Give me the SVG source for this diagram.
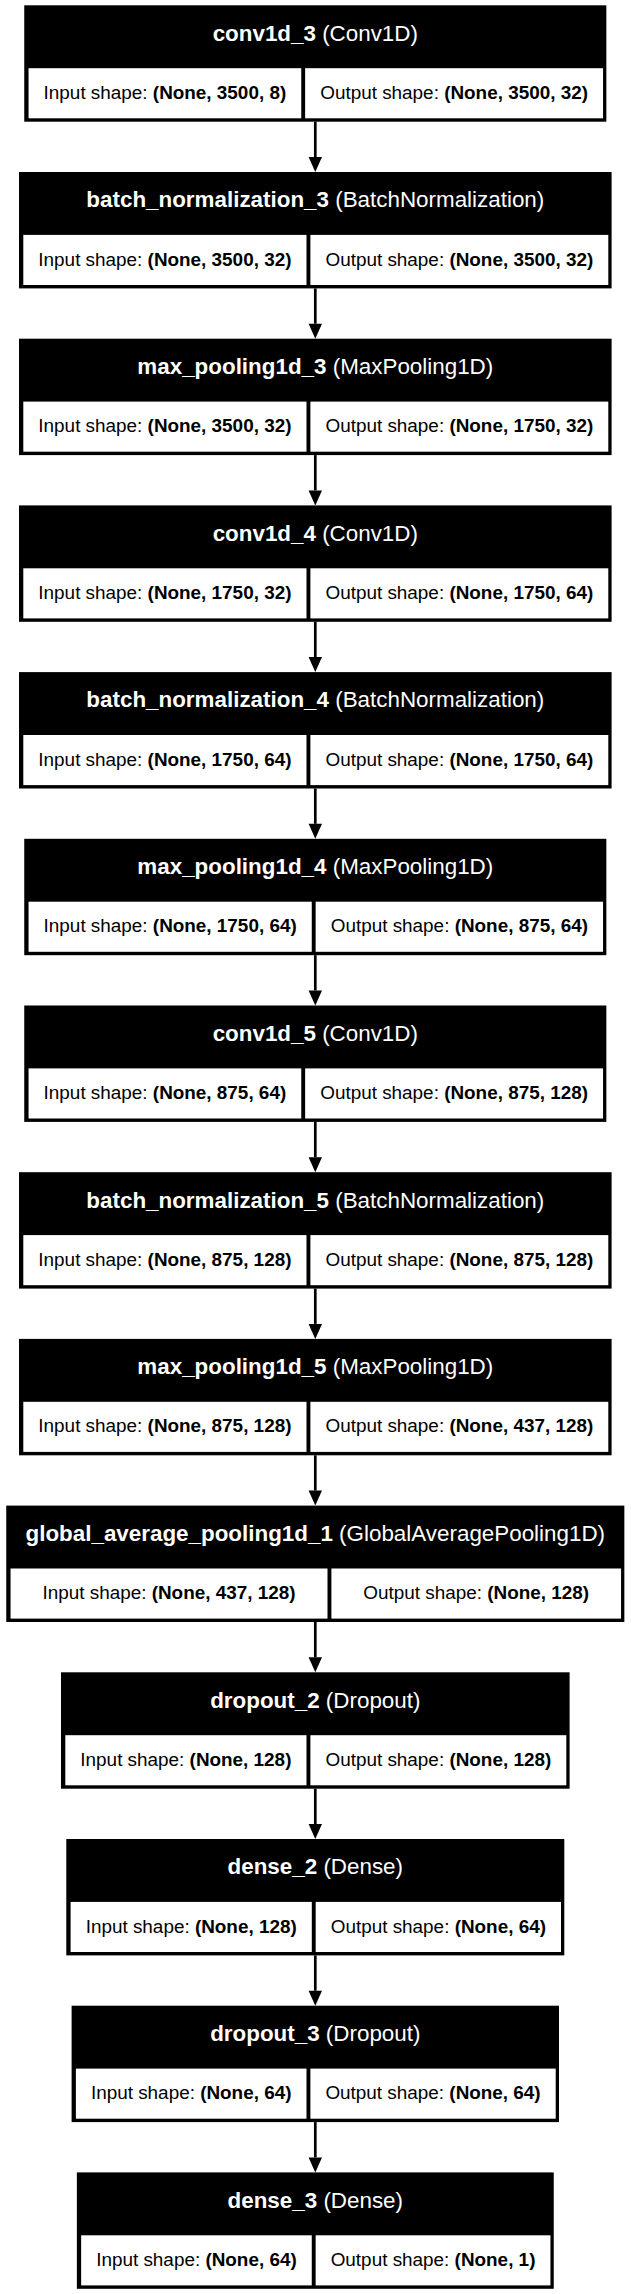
<svg xmlns="http://www.w3.org/2000/svg" width="631" height="2294" viewBox="0 0 631 2294">
<style>
.box{fill:#000}
.cell{fill:#fff}
.t{font-family:"Liberation Sans",Arial,sans-serif;font-size:22.4px;fill:#fff;text-anchor:middle}
.s{font-family:"Liberation Sans",Arial,sans-serif;font-size:18.9px;fill:#000;text-anchor:middle}
.b{font-weight:bold}
.edge{stroke:#000;stroke-width:2.7;fill:none;marker-end:url(#ah)}
</style>
<defs>
<marker id="ah" markerUnits="userSpaceOnUse" markerWidth="15" markerHeight="14" viewBox="0 -7 15 14" refX="0" refY="0" orient="auto" overflow="visible">
<path d="M0,-6.7 L15,0 L0,6.7 z" fill="#000"/>
</marker>
</defs>
<rect x="0" y="0" width="631" height="2294" fill="#fff"/>
<g id="edges">
<line class="edge" x1="315.3" y1="121.7" x2="315.3" y2="157.0"/>
<line class="edge" x1="315.3" y1="288.4" x2="315.3" y2="323.7"/>
<line class="edge" x1="315.3" y1="455.1" x2="315.3" y2="490.4"/>
<line class="edge" x1="315.3" y1="621.8" x2="315.3" y2="657.1"/>
<line class="edge" x1="315.3" y1="788.5" x2="315.3" y2="823.8"/>
<line class="edge" x1="315.3" y1="955.2" x2="315.3" y2="990.5"/>
<line class="edge" x1="315.3" y1="1121.9" x2="315.3" y2="1157.2"/>
<line class="edge" x1="315.3" y1="1288.6" x2="315.3" y2="1323.9"/>
<line class="edge" x1="315.3" y1="1455.3" x2="315.3" y2="1490.6"/>
<line class="edge" x1="315.3" y1="1622.0" x2="315.3" y2="1657.3"/>
<line class="edge" x1="315.3" y1="1788.7" x2="315.3" y2="1824.0"/>
<line class="edge" x1="315.3" y1="1955.4" x2="315.3" y2="1990.7"/>
<line class="edge" x1="315.3" y1="2122.1" x2="315.3" y2="2157.4"/>
</g>
<g id="conv1d_3" transform="translate(0,5.3)">
<rect class="box" x="24.25" y="0" width="582.1" height="116.4"/>
<rect class="cell" x="28.55" y="62.9" width="272.7" height="50.1"/>
<rect class="cell" x="305.15" y="62.9" width="297.9" height="50.1"/>
<text class="t" x="315.3" y="35.4"><tspan class="b">conv1d_3</tspan> (Conv1D)</text>
<text class="s" x="164.9" y="93.5">Input shape: <tspan class="b">(None, 3500, 8)</tspan></text>
<text class="s" x="454.1" y="93.5">Output shape: <tspan class="b">(None, 3500, 32)</tspan></text>
</g>
<g id="batch_normalization_3" transform="translate(0,172.0)">
<rect class="box" x="19.0" y="0" width="592.6" height="116.4"/>
<rect class="cell" x="23.3" y="62.9" width="283.2" height="50.1"/>
<rect class="cell" x="310.4" y="62.9" width="297.9" height="50.1"/>
<text class="t" x="315.3" y="35.4"><tspan class="b">batch_normalization_3</tspan> (BatchNormalization)</text>
<text class="s" x="164.9" y="93.5">Input shape: <tspan class="b">(None, 3500, 32)</tspan></text>
<text class="s" x="459.35" y="93.5">Output shape: <tspan class="b">(None, 3500, 32)</tspan></text>
</g>
<g id="max_pooling1d_3" transform="translate(0,338.7)">
<rect class="box" x="19.0" y="0" width="592.6" height="116.4"/>
<rect class="cell" x="23.3" y="62.9" width="283.2" height="50.1"/>
<rect class="cell" x="310.4" y="62.9" width="297.9" height="50.1"/>
<text class="t" x="315.3" y="35.4"><tspan class="b">max_pooling1d_3</tspan> (MaxPooling1D)</text>
<text class="s" x="164.9" y="93.5">Input shape: <tspan class="b">(None, 3500, 32)</tspan></text>
<text class="s" x="459.35" y="93.5">Output shape: <tspan class="b">(None, 1750, 32)</tspan></text>
</g>
<g id="conv1d_4" transform="translate(0,505.4)">
<rect class="box" x="19.0" y="0" width="592.6" height="116.4"/>
<rect class="cell" x="23.3" y="62.9" width="283.2" height="50.1"/>
<rect class="cell" x="310.4" y="62.9" width="297.9" height="50.1"/>
<text class="t" x="315.3" y="35.4"><tspan class="b">conv1d_4</tspan> (Conv1D)</text>
<text class="s" x="164.9" y="93.5">Input shape: <tspan class="b">(None, 1750, 32)</tspan></text>
<text class="s" x="459.35" y="93.5">Output shape: <tspan class="b">(None, 1750, 64)</tspan></text>
</g>
<g id="batch_normalization_4" transform="translate(0,672.1)">
<rect class="box" x="19.0" y="0" width="592.6" height="116.4"/>
<rect class="cell" x="23.3" y="62.9" width="283.2" height="50.1"/>
<rect class="cell" x="310.4" y="62.9" width="297.9" height="50.1"/>
<text class="t" x="315.3" y="35.4"><tspan class="b">batch_normalization_4</tspan> (BatchNormalization)</text>
<text class="s" x="164.9" y="93.5">Input shape: <tspan class="b">(None, 1750, 64)</tspan></text>
<text class="s" x="459.35" y="93.5">Output shape: <tspan class="b">(None, 1750, 64)</tspan></text>
</g>
<g id="max_pooling1d_4" transform="translate(0,838.8)">
<rect class="box" x="24.25" y="0" width="582.1" height="116.4"/>
<rect class="cell" x="28.55" y="62.9" width="283.2" height="50.1"/>
<rect class="cell" x="315.65" y="62.9" width="287.4" height="50.1"/>
<text class="t" x="315.3" y="35.4"><tspan class="b">max_pooling1d_4</tspan> (MaxPooling1D)</text>
<text class="s" x="170.15" y="93.5">Input shape: <tspan class="b">(None, 1750, 64)</tspan></text>
<text class="s" x="459.35" y="93.5">Output shape: <tspan class="b">(None, 875, 64)</tspan></text>
</g>
<g id="conv1d_5" transform="translate(0,1005.5)">
<rect class="box" x="24.25" y="0" width="582.1" height="116.4"/>
<rect class="cell" x="28.55" y="62.9" width="272.7" height="50.1"/>
<rect class="cell" x="305.15" y="62.9" width="297.9" height="50.1"/>
<text class="t" x="315.3" y="35.4"><tspan class="b">conv1d_5</tspan> (Conv1D)</text>
<text class="s" x="164.9" y="93.5">Input shape: <tspan class="b">(None, 875, 64)</tspan></text>
<text class="s" x="454.1" y="93.5">Output shape: <tspan class="b">(None, 875, 128)</tspan></text>
</g>
<g id="batch_normalization_5" transform="translate(0,1172.2)">
<rect class="box" x="19.0" y="0" width="592.6" height="116.4"/>
<rect class="cell" x="23.3" y="62.9" width="283.2" height="50.1"/>
<rect class="cell" x="310.4" y="62.9" width="297.9" height="50.1"/>
<text class="t" x="315.3" y="35.4"><tspan class="b">batch_normalization_5</tspan> (BatchNormalization)</text>
<text class="s" x="164.9" y="93.5">Input shape: <tspan class="b">(None, 875, 128)</tspan></text>
<text class="s" x="459.35" y="93.5">Output shape: <tspan class="b">(None, 875, 128)</tspan></text>
</g>
<g id="max_pooling1d_5" transform="translate(0,1338.9)">
<rect class="box" x="19.0" y="0" width="592.6" height="116.4"/>
<rect class="cell" x="23.3" y="62.9" width="283.2" height="50.1"/>
<rect class="cell" x="310.4" y="62.9" width="297.9" height="50.1"/>
<text class="t" x="315.3" y="35.4"><tspan class="b">max_pooling1d_5</tspan> (MaxPooling1D)</text>
<text class="s" x="164.9" y="93.5">Input shape: <tspan class="b">(None, 875, 128)</tspan></text>
<text class="s" x="459.35" y="93.5">Output shape: <tspan class="b">(None, 437, 128)</tspan></text>
</g>
<g id="global_average_pooling1d_1" transform="translate(0,1505.6)">
<rect class="box" x="6.25" y="0" width="618.1" height="116.4"/>
<rect class="cell" x="10.55" y="62.9" width="316.95" height="50.1"/>
<rect class="cell" x="331.4" y="62.9" width="289.65" height="50.1"/>
<text class="t" x="315.3" y="35.4"><tspan class="b">global_average_pooling1d_1</tspan> (GlobalAveragePooling1D)</text>
<text class="s" x="169.0" y="93.5">Input shape: <tspan class="b">(None, 437, 128)</tspan></text>
<text class="s" x="476.2" y="93.5">Output shape: <tspan class="b">(None, 128)</tspan></text>
</g>
<g id="dropout_2" transform="translate(0,1672.3)">
<rect class="box" x="61.0" y="0" width="508.6" height="116.4"/>
<rect class="cell" x="65.3" y="62.9" width="241.2" height="50.1"/>
<rect class="cell" x="310.4" y="62.9" width="255.9" height="50.1"/>
<text class="t" x="315.3" y="35.4"><tspan class="b">dropout_2</tspan> (Dropout)</text>
<text class="s" x="185.9" y="93.5">Input shape: <tspan class="b">(None, 128)</tspan></text>
<text class="s" x="438.35" y="93.5">Output shape: <tspan class="b">(None, 128)</tspan></text>
</g>
<g id="dense_2" transform="translate(0,1839.0)">
<rect class="box" x="66.3" y="0" width="498.0" height="116.4"/>
<rect class="cell" x="70.6" y="62.9" width="241.2" height="50.1"/>
<rect class="cell" x="315.7" y="62.9" width="245.3" height="50.1"/>
<text class="t" x="315.3" y="35.4"><tspan class="b">dense_2</tspan> (Dense)</text>
<text class="s" x="191.2" y="93.5">Input shape: <tspan class="b">(None, 128)</tspan></text>
<text class="s" x="438.35" y="93.5">Output shape: <tspan class="b">(None, 64)</tspan></text>
</g>
<g id="dropout_3" transform="translate(0,2005.7)">
<rect class="box" x="71.6" y="0" width="487.4" height="116.4"/>
<rect class="cell" x="75.9" y="62.9" width="230.6" height="50.1"/>
<rect class="cell" x="310.4" y="62.9" width="245.3" height="50.1"/>
<text class="t" x="315.3" y="35.4"><tspan class="b">dropout_3</tspan> (Dropout)</text>
<text class="s" x="191.2" y="93.5">Input shape: <tspan class="b">(None, 64)</tspan></text>
<text class="s" x="433.05" y="93.5">Output shape: <tspan class="b">(None, 64)</tspan></text>
</g>
<g id="dense_3" transform="translate(0,2172.4)">
<rect class="box" x="76.85" y="0" width="476.9" height="116.4"/>
<rect class="cell" x="81.15" y="62.9" width="230.6" height="50.1"/>
<rect class="cell" x="315.65" y="62.9" width="234.8" height="50.1"/>
<text class="t" x="315.3" y="35.4"><tspan class="b">dense_3</tspan> (Dense)</text>
<text class="s" x="196.45" y="93.5">Input shape: <tspan class="b">(None, 64)</tspan></text>
<text class="s" x="433.05" y="93.5">Output shape: <tspan class="b">(None, 1)</tspan></text>
</g>
</svg>
